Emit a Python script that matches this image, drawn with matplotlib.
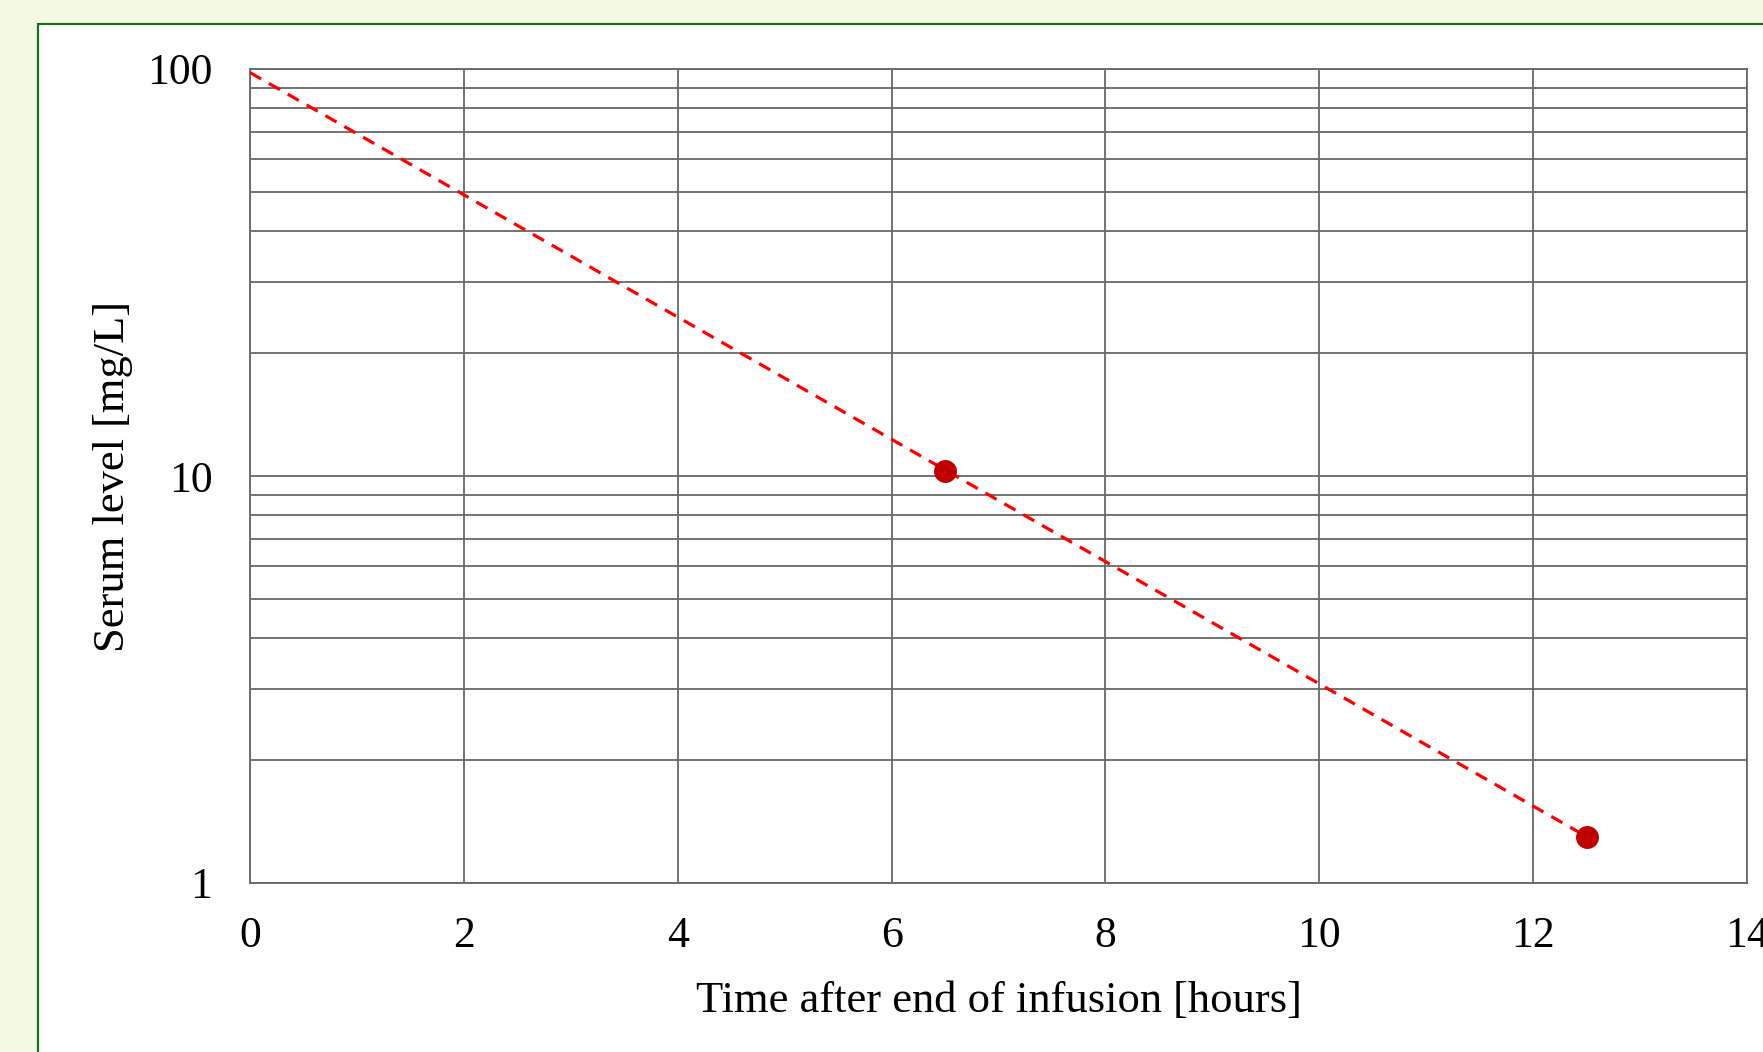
import matplotlib
matplotlib.use("Agg")
import matplotlib.pyplot as plt
from matplotlib.patches import Rectangle
from matplotlib.ticker import LogLocator, FixedLocator, NullFormatter

# measured serum levels
sample_times = [6.5, 12.5]
sample_levels = [10.3, 1.3]

# fitted elimination line (straight on the log scale)
fit_times = [0, 12.5]
fit_levels = [98, 1.3]

x_ticks = [0, 2, 4, 6, 8, 10, 12, 14]
y_ticks = [1, 10, 100]

W, H = 1763, 1052
fig = plt.figure(figsize=(W / 100, H / 100), dpi=100)
fig.patch.set_facecolor("#f4f9e4")

# white panel with green frame
fig.patches.append(Rectangle((38 / W, -0.1), 1.2, 1 - 24 / H + 0.1,
                             transform=fig.transFigure, facecolor="white",
                             edgecolor="#1e6e1e", linewidth=1.6, zorder=-5))

ax = fig.add_axes([250 / W, 1 - 883 / H, (1747 - 250) / W, (883 - 69) / H])
ax.set_facecolor("white")
ax.set_yscale("log")
ax.set_xlim(0, 14)
ax.set_ylim(1, 100)

grid_c = "#686868"
ax.xaxis.set_major_locator(FixedLocator(x_ticks))
ax.yaxis.set_major_locator(FixedLocator(y_ticks))
ax.yaxis.set_minor_locator(LogLocator(base=10, subs=range(2, 10)))
ax.yaxis.set_minor_formatter(NullFormatter())
ax.set_yticklabels([str(v) for v in y_ticks])
ax.grid(True, which="both", axis="y", color=grid_c, linewidth=1.3)
ax.grid(True, which="major", axis="x", color=grid_c, linewidth=1.3)
ax.set_axisbelow(True)
for s in ax.spines.values():
    s.set_color(grid_c)
    s.set_linewidth(1.3)

serif = "Liberation Serif"
ax.tick_params(which="both", length=0)
ax.tick_params(axis="y", pad=27, labelsize=31.5)
ax.tick_params(axis="x", pad=24, labelsize=31.5)
for lab in ax.get_xticklabels() + ax.get_yticklabels():
    lab.set_fontfamily(serif)

ax.plot(fit_times, fit_levels, color="#ff0000", linestyle=(0, (4, 2.8)),
        linewidth=2.3, zorder=3)
ax.plot(sample_times, sample_levels, "o", color="#c00000", markersize=15.5,
        zorder=4, clip_on=False)

ax.set_xlabel("Time after end of infusion [hours]", fontsize=32,
              fontfamily=serif, labelpad=18)
ax.set_ylabel("Serum level [mg/L]", fontsize=32, fontfamily=serif,
              labelpad=10)

fig.savefig("out.png", dpi=100)
